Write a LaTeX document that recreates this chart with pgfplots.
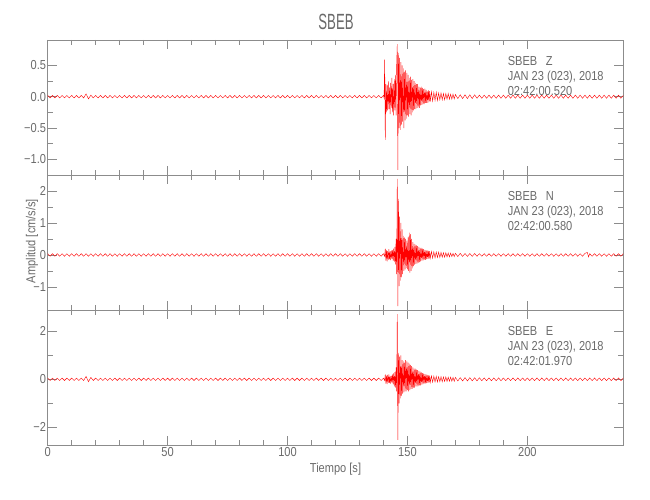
\documentclass[border=0pt]{standalone}
\usepackage{pgfplots}
\pgfplotsset{compat=1.18}
\usepackage{fontspec}
\setmainfont{Liberation Sans}[FakeStretch=0.85]
\newfontfamily\titlefont{Liberation Sans}[FakeStretch=0.6]
\definecolor{axgray}{HTML}{8C8C8C}
\definecolor{txtgray}{HTML}{6A6A6A}
\definecolor{seisred}{HTML}{FF0000}
\pgfplotsset{seis/.style={
  scale only axis, width=575.6pt, height=135pt,
  anchor=north west,
  xmin=0, xmax=240,
  axis line style={draw=axgray, line width=0.6pt},
  every tick/.style={draw=axgray, line width=0.6pt},
  tick align=inside,
  major tick length=9pt, minor tick length=5pt,
  xtick={0,50,100,150,200}, minor x tick num=4,
  minor y tick num=1,
  ticklabel style={font=\fontsize{13}{13}\selectfont, text=txtgray},
  yticklabel style={inner sep=1.5pt},
  xticklabel style={inner sep=2pt},
  xticklabels={},
  cycle list={{seisred, line width=0.4pt, mark=none}},
}}
\newcommand{\stinfo}[2]{\node[anchor=north west, inner sep=0pt, align=left, yshift=-16.5pt,
  font=\fontsize{13}{14.7}\selectfont, text=txtgray] at (rel axis cs:0.799,1)
  {SBEB\hspace{8.7pt}#1\\JAN 23 (023), 2018\\#2};}
\begin{document}
\begin{tikzpicture}
\useasboundingbox (0pt,0pt) rectangle (650pt,500pt);
\node[font=\titlefont\fontsize{22}{22}\selectfont, text=txtgray] at (336pt,478pt) {SBEB};
\node[font=\fontsize{13}{13}\selectfont, text=txtgray] at (335.5pt,31pt) {Tiempo [s]};
\node[font=\fontsize{13}{13}\selectfont, text=txtgray, rotate=90] at (32pt,259pt) {Amplitud [cm/s/s]};
% ---------------- Z ----------------
\begin{axis}[seis, at={(47.7pt,460pt)}, ymin=-1.25, ymax=0.905,
  ytick={-1,-0.5,0,0.5}, yticklabels={−1.0,−0.5,0.0,0.5}]
\addplot coordinates {
(0,0.02)(1,-0.02)(2,0.02)(3,-0.02)(4,0.02)(5,-0.02)(6,0.02)(7,-0.02)(8,0.02)(9,-0.02)
(10,0.02)(11,-0.02)(12,0.02)(13,-0.02)(14,0.02)(15,-0.02)(16,0.045)(17,-0.035)(18,0.025)(19,-0.02)
(20,0.02)(21,-0.02)(22,0.02)(23,-0.02)(24,0.02)(25,-0.02)(26,0.02)(27,-0.02)(28,0.02)(29,-0.02)
(30,0.02)(31,-0.02)(32,0.02)(33,-0.02)(34,0.02)(35,-0.02)(36,0.02)(37,-0.02)(38,0.02)(39,-0.02)
(40,0.02)(41,-0.02)(42,0.02)(43,-0.02)(44,0.02)(45,-0.02)(46,0.02)(47,-0.02)(48,0.02)(49,-0.02)
(50,0.02)(51,-0.02)(52,0.02)(53,-0.02)(54,0.02)(55,-0.02)(56,0.02)(57,-0.02)(58,0.02)(59,-0.02)
(60,0.02)(61,-0.02)(62,0.02)(63,-0.02)(64,0.02)(65,-0.02)(66,0.02)(67,-0.02)(68,0.02)(69,-0.02)
(70,0.02)(71,-0.02)(72,0.02)(73,-0.02)(74,0.02)(75,-0.02)(76,0.02)(77,-0.02)(78,0.02)(79,-0.02)
(80,0.02)(81,-0.02)(82,0.02)(83,-0.02)(84,0.02)(85,-0.02)(86,0.02)(87,-0.02)(88,0.02)(89,-0.02)
(90,0.02)(91,-0.02)(92,0.02)(93,-0.02)(94,0.02)(95,-0.02)(96,0.02)(97,-0.02)(98,0.02)(99,-0.02)
(100,0.02)(101,-0.02)(102,0.02)(103,-0.02)(104,0.02)(105,-0.02)(106,0.02)(107,-0.02)(108,0.02)(109,-0.02)
(110,0.02)(111,-0.02)(112,0.02)(113,-0.02)(114,0.02)(115,-0.02)(116,0.02)(117,-0.02)(118,0.02)(119,-0.02)
(120,0.02)(121,-0.02)(122,0.02)(123,-0.02)(124,0.02)(125,-0.02)(126,0.02)(127,-0.02)(128,0.02)(129,-0.02)
(130,0.02)(131,-0.02)(132,0.02)(133,-0.02)(134,0.02)(135,-0.02)(136,0.02)(137,-0.02)(138,0.02)(139,-0.02)
(140,0.02)(140.25,-0.02)
(140.5,0.59)(140.75,-0.69)(141,0.2)(141.25,-0.25)(141.5,0.18)(141.75,-0.22)(142,0.25)(142.25,-0.2)
(142.5,0.15)(142.75,-0.28)(143,0.22)(143.25,-0.18)(143.5,0.3)(143.75,-0.25)(144,0.2)(144.25,-0.3)
(144.5,0.28)(144.75,-0.22)(145,0.35)(145.25,-0.3)(145.5,0.5)(145.75,0.84)(146,-1.17)(146.25,0.7)
(146.5,-0.5)(146.75,0.62)(147,-0.53)(147.25,0.55)(147.5,-0.45)(147.75,0.5)(148,-0.4)(148.25,0.45)
(148.5,-0.5)(148.75,0.4)(149,-0.38)(149.25,0.42)(149.5,-0.35)(149.75,0.38)(150,-0.3)(150.25,0.35)
(150.5,-0.32)(150.75,0.3)(151,-0.28)(151.25,0.32)(151.5,-0.3)(151.75,0.27)(152,-0.25)(152.25,0.28)
(152.5,-0.22)(152.75,0.25)(153,-0.2)(153.25,0.22)(153.5,-0.2)(153.75,0.2)(154,-0.18)(154.25,0.2)
(154.5,-0.17)(154.75,0.16)(155,-0.18)(155.25,0.15)(155.5,-0.14)(155.75,0.16)(156,-0.13)(156.25,0.14)
(156.5,-0.12)(156.75,0.12)(157,-0.12)(157.25,0.13)(157.5,-0.1)(157.75,0.11)(158,-0.1)(158.25,0.09)
(158.5,-0.1)(158.75,0.1)(159,-0.08)(159.25,0.09)(159.5,-0.08)
(160,0.08)(160.5,-0.07)(161,0.07)(161.5,-0.06)(162,0.07)(162.5,-0.06)(163,0.06)(163.5,-0.05)
(164,0.06)(164.5,-0.05)(165,0.05)(165.5,-0.05)(166,0.05)(166.5,-0.04)(167,0.05)(167.5,-0.04)
(168,0.04)(168.5,-0.04)(169,0.04)(169.5,-0.035)(170,0.035)
(171,-0.03)(172,0.03)(173,-0.03)(174,0.03)(175,-0.03)(176,0.03)(177,-0.03)(178,0.03)(179,-0.025)
(180,0.025)(181,-0.025)(182,0.025)(183,-0.025)(184,0.025)(185,-0.025)(186,0.025)(187,-0.025)(188,0.025)(189,-0.025)
(190,0.025)(191,-0.025)(192,0.025)(193,-0.025)(194,0.025)(195,-0.025)(196,0.025)(197,-0.025)(198,0.025)(199,-0.025)
(200,0.025)(201,-0.025)(202,0.025)(203,-0.025)(204,0.025)(205,-0.025)(206,0.025)(207,-0.025)(208,0.025)(209,-0.025)
(210,0.025)(211,-0.025)(212,0.025)(213,-0.025)(214,0.025)(215,-0.025)(216,0.025)(217,-0.025)(218,0.025)(219,-0.025)
(220,0.025)(221,-0.025)(222,0.025)(223,-0.025)(224,0.025)(225,-0.025)(226,0.025)(227,-0.025)(228,0.025)(229,-0.025)
(230,0.025)(231,-0.025)(232,0.025)(233,-0.025)(234,0.025)(235,-0.025)(236,0.025)(237,-0.025)(238,0.025)(239,-0.025)(240,0.02)
};
\stinfo{Z}{02:42:00.520}
\end{axis}
% ---------------- N ----------------
\begin{axis}[seis, at={(47.7pt,325pt)}, ymin=-1.72, ymax=2.5,
  ytick={-1,0,1,2}, yticklabels={−1,0,1,2}]
\addplot coordinates {
(0,0.04)(1,-0.04)(2,0.04)(3,-0.04)(4,0.04)(5,-0.04)(6,0.04)(7,-0.04)(8,0.04)(9,-0.04)
(10,0.04)(11,-0.04)(12,0.04)(13,-0.04)(14,0.04)(15,-0.04)(16,0.04)(17,-0.04)(18,0.04)(19,-0.04)
(20,0.04)(21,-0.04)(22,0.04)(23,-0.04)(24,0.04)(25,-0.04)(26,0.04)(27,-0.04)(28,0.04)(29,-0.04)
(30,0.04)(31,-0.04)(32,0.04)(33,-0.04)(34,0.04)(35,-0.04)(36,0.04)(37,-0.04)(38,0.04)(39,-0.04)
(40,0.04)(41,-0.04)(42,0.04)(43,-0.04)(44,0.04)(45,-0.04)(46,0.04)(47,-0.04)(48,0.04)(49,-0.04)
(50,0.04)(51,-0.04)(52,0.04)(53,-0.04)(54,0.04)(55,-0.04)(56,0.04)(57,-0.04)(58,0.04)(59,-0.04)
(60,0.04)(61,-0.04)(62,0.04)(63,-0.04)(64,0.04)(65,-0.04)(66,0.04)(67,-0.04)(68,0.04)(69,-0.04)
(70,0.04)(71,-0.04)(72,0.04)(73,-0.04)(74,0.04)(75,-0.04)(76,0.04)(77,-0.04)(78,0.04)(79,-0.04)
(80,0.04)(81,-0.04)(82,0.04)(83,-0.04)(84,0.04)(85,-0.04)(86,0.04)(87,-0.04)(88,0.04)(89,-0.04)
(90,0.04)(91,-0.04)(92,0.04)(93,-0.04)(94,0.04)(95,-0.04)(96,0.04)(97,-0.04)(98,0.04)(99,-0.04)
(100,0.04)(101,-0.04)(102,0.04)(103,-0.04)(104,0.04)(105,-0.04)(106,0.04)(107,-0.04)(108,0.04)(109,-0.04)
(110,0.04)(111,-0.04)(112,0.04)(113,-0.04)(114,0.04)(115,-0.04)(116,0.04)(117,-0.04)(118,0.04)(119,-0.04)
(120,0.04)(121,-0.04)(122,0.04)(123,-0.04)(124,0.04)(125,-0.04)(126,0.04)(127,-0.04)(128,0.04)(129,-0.04)
(130,0.04)(131,-0.04)(132,0.04)(133,-0.04)(134,0.04)(135,-0.04)(136,0.04)(137,-0.04)(138,0.04)(139,-0.04)
(140,0.04)(140.5,-0.04)
(140.75,0.2)(141,-0.18)(141.25,0.15)(141.5,-0.2)(141.75,0.12)(142,-0.15)(142.25,0.18)(142.5,-0.14)
(142.75,0.12)(143,-0.16)(143.25,0.14)(143.5,-0.12)(143.75,0.15)(144,-0.18)(144.25,0.2)(144.5,-0.22)
(144.75,0.25)(145,-0.3)(145.25,0.5)(145.5,-0.6)(145.75,2.38)(146,-1.6)(146.25,1.75)(146.5,-0.97)
(146.75,1.2)(147,-0.8)(147.25,1.0)(147.5,-0.7)(147.75,0.8)(148,-0.6)(148.25,0.6)(148.5,-0.5)
(148.75,0.55)(149,-0.45)(149.25,0.5)(149.5,-0.4)(149.75,0.45)(150,-0.45)(150.25,0.55)(150.5,-0.5)
(150.75,0.7)(151,-0.55)(151.25,0.65)(151.5,-0.5)(151.75,0.5)(152,-0.42)(152.25,0.4)(152.5,-0.35)
(152.75,0.35)(153,-0.3)(153.25,0.32)(153.5,-0.28)(153.75,0.3)(154,-0.26)(154.25,0.28)(154.5,-0.25)
(154.75,0.25)(155,-0.22)(155.25,0.22)(155.5,-0.2)(155.75,0.22)(156,-0.18)(156.25,0.2)(156.5,-0.17)
(156.75,0.18)(157,-0.15)(157.25,0.16)(157.5,-0.15)(157.75,0.15)(158,-0.13)(158.25,0.14)(158.5,-0.12)
(158.75,0.13)(159,-0.12)(159.25,0.12)(159.5,-0.1)
(160,0.11)(160.5,-0.1)(161,0.1)(161.5,-0.09)(162,0.09)(162.5,-0.08)(163,0.09)(163.5,-0.08)
(164,0.08)(164.5,-0.07)(165,0.07)(165.5,-0.07)(166,0.07)(166.5,-0.06)(167,0.06)(167.5,-0.06)
(168,0.06)(168.5,-0.05)(169,0.05)(169.5,-0.05)(170,0.05)
(171,-0.05)(172,0.05)(173,-0.045)(174,0.045)(175,-0.045)(176,0.045)(177,-0.045)(178,0.045)(179,-0.04)
(180,0.04)(181,-0.04)(182,0.04)(183,-0.04)(184,0.04)(185,-0.04)(186,0.04)(187,-0.04)(188,0.04)(189,-0.04)
(190,0.04)(191,-0.04)(192,0.04)(193,-0.04)(194,0.04)(195,-0.04)(196,0.04)(197,-0.04)(198,0.04)(199,-0.04)
(200,0.04)(201,-0.04)(202,0.04)(203,-0.04)(204,0.04)(205,-0.04)(206,0.04)(207,-0.04)(208,0.04)(209,-0.04)
(210,0.04)(211,-0.04)(212,0.04)(213,-0.04)(214,0.04)(215,-0.04)(216,0.04)(217,-0.04)(218,0.04)(219,-0.04)
(220,0.04)(221,-0.04)(222,0.04)(223,-0.04)(224,0.05)(225,0.08)(225.5,-0.06)(226,0.04)(227,-0.04)(228,0.04)(229,-0.04)
(230,0.04)(231,-0.04)(232,0.04)(233,-0.04)(234,0.04)(235,-0.04)(236,0.04)(237,-0.04)(238,0.04)(239,-0.04)(240,0.04)
};
\stinfo{N}{02:42:00.580}
\end{axis}
% ---------------- E ----------------
\begin{axis}[seis, at={(47.7pt,190pt)}, ymin=-2.74, ymax=2.89,
  ytick={-2,0,2}, yticklabels={−2,0,2},
  xticklabels={0,50,100,150,200}]
\addplot coordinates {
(0,0.05)(1,-0.05)(2,0.05)(3,-0.05)(4,0.05)(5,-0.05)(6,0.05)(7,-0.05)(8,0.05)(9,-0.05)
(10,0.05)(11,-0.05)(12,0.05)(13,-0.05)(14,0.05)(15,-0.05)(16,0.12)(17,-0.1)(18,0.08)(19,-0.05)
(20,0.05)(21,-0.05)(22,0.05)(23,-0.05)(24,0.05)(25,-0.05)(26,0.05)(27,-0.05)(28,0.05)(29,-0.05)
(30,0.05)(31,-0.05)(32,0.05)(33,-0.05)(34,0.05)(35,-0.05)(36,0.05)(37,-0.05)(38,0.05)(39,-0.05)
(40,0.05)(41,-0.05)(42,0.05)(43,-0.05)(44,0.05)(45,-0.05)(46,0.05)(47,-0.05)(48,0.05)(49,-0.05)
(50,0.05)(51,-0.05)(52,0.05)(53,-0.05)(54,0.05)(55,-0.05)(56,0.05)(57,-0.05)(58,0.05)(59,-0.05)
(60,0.05)(61,-0.05)(62,0.05)(63,-0.05)(64,0.05)(65,-0.05)(66,0.05)(67,-0.05)(68,0.05)(69,-0.05)
(70,0.05)(71,-0.05)(72,0.05)(73,-0.05)(74,0.05)(75,-0.05)(76,0.05)(77,-0.05)(78,0.05)(79,-0.05)
(80,0.05)(81,-0.05)(82,0.05)(83,-0.05)(84,0.05)(85,-0.05)(86,0.05)(87,-0.05)(88,0.05)(89,-0.05)
(90,0.05)(91,-0.05)(92,0.05)(93,-0.05)(94,0.05)(95,-0.05)(96,0.05)(97,-0.05)(98,0.05)(99,-0.05)
(100,0.05)(101,-0.05)(102,0.05)(103,-0.05)(104,0.05)(105,-0.05)(106,0.05)(107,-0.05)(108,0.05)(109,-0.05)
(110,0.05)(111,-0.05)(112,0.05)(113,-0.05)(114,0.05)(115,-0.05)(116,0.05)(117,-0.05)(118,0.05)(119,-0.05)
(120,0.05)(121,-0.05)(122,0.05)(123,-0.05)(124,0.05)(125,-0.05)(126,0.05)(127,-0.05)(128,0.05)(129,-0.05)
(130,0.05)(131,-0.05)(132,0.05)(133,-0.05)(134,0.05)(135,-0.05)(136,0.05)(137,-0.05)(138,0.05)(139,-0.05)
(140,0.05)(140.5,-0.05)
(140.75,0.2)(141,-0.18)(141.25,0.15)(141.5,-0.2)(141.75,0.18)(142,-0.15)(142.25,0.2)(142.5,-0.16)
(142.75,0.14)(143,-0.18)(143.25,0.15)(143.5,-0.14)(143.75,0.2)(144,-0.2)(144.25,0.25)(144.5,-0.3)
(144.75,0.3)(145,-0.35)(145.25,0.5)(145.5,-0.5)(145.75,2.72)(146,-2.53)(146.25,1.1)(146.5,-1.0)
(146.75,0.95)(147,-0.8)(147.25,1.0)(147.5,-0.7)(147.75,0.8)(148,-0.6)(148.25,0.75)(148.5,-0.55)
(148.75,0.7)(149,-0.5)(149.25,0.8)(149.5,-0.5)(149.75,0.75)(150,-0.45)(150.25,0.7)(150.5,-0.5)
(150.75,0.65)(151,-0.45)(151.25,0.6)(151.5,-0.4)(151.75,0.55)(152,-0.4)(152.25,0.5)(152.5,-0.35)
(152.75,0.45)(153,-0.35)(153.25,0.45)(153.5,-0.3)(153.75,0.4)(154,-0.3)(154.25,0.38)(154.5,-0.28)
(154.75,0.35)(155,-0.25)(155.25,0.32)(155.5,-0.25)(155.75,0.3)(156,-0.22)(156.25,0.26)(156.5,-0.2)
(156.75,0.24)(157,-0.18)(157.25,0.22)(157.5,-0.17)(157.75,0.2)(158,-0.16)(158.25,0.18)(158.5,-0.15)
(158.75,0.16)(159,-0.14)(159.25,0.15)(159.5,-0.13)
(160,0.14)(160.5,-0.12)(161,0.13)(161.5,-0.11)(162,0.12)(162.5,-0.11)(163,0.11)(163.5,-0.1)
(164,0.11)(164.5,-0.1)(165,0.1)(165.5,-0.09)(166,0.1)(166.5,-0.09)(167,0.09)(167.5,-0.08)
(168,0.09)(168.5,-0.08)(169,0.08)(169.5,-0.08)(170,0.08)
(171,-0.07)(172,0.07)(173,-0.07)(174,0.07)(175,-0.07)(176,0.07)(177,-0.065)(178,0.065)(179,-0.065)
(180,0.065)(181,-0.06)(182,0.06)(183,-0.06)(184,0.06)(185,-0.06)(186,0.06)(187,-0.06)(188,0.06)(189,-0.06)
(190,0.055)(191,-0.055)(192,0.055)(193,-0.055)(194,0.055)(195,-0.055)(196,0.055)(197,-0.055)(198,0.055)(199,-0.055)
(200,0.055)(201,-0.055)(202,0.055)(203,-0.055)(204,0.055)(205,-0.055)(206,0.055)(207,-0.055)(208,0.055)(209,-0.055)
(210,0.055)(211,-0.055)(212,0.055)(213,-0.055)(214,0.055)(215,-0.055)(216,0.055)(217,-0.055)(218,0.055)(219,-0.055)
(220,0.055)(221,-0.055)(222,0.055)(223,-0.055)(224,0.055)(225,-0.055)(226,0.055)(227,-0.055)(228,0.055)(229,-0.055)
(230,0.055)(231,-0.055)(232,0.055)(233,-0.055)(234,0.055)(235,-0.055)(236,0.055)(237,-0.055)(238,0.055)(239,-0.055)(240,0.05)
};
\stinfo{E}{02:42:01.970}
\end{axis}
\end{tikzpicture}
\end{document}
